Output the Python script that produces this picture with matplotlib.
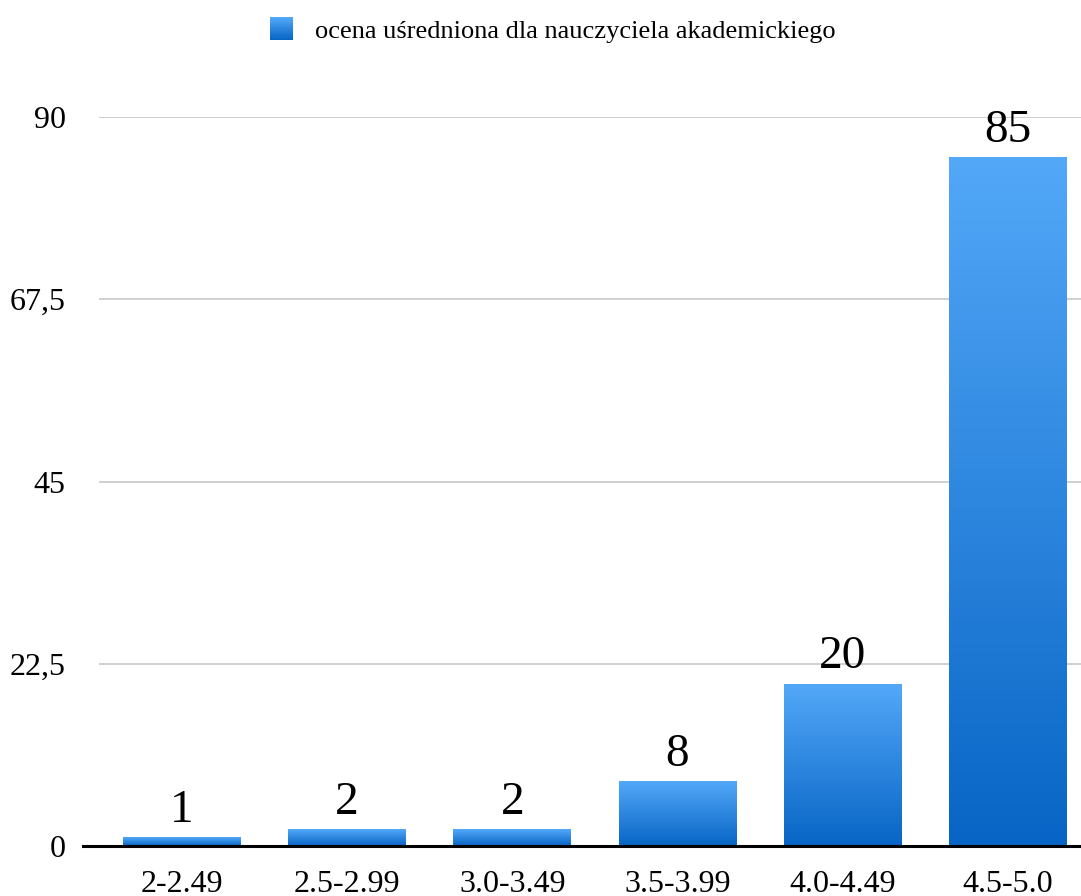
import numpy as np
import matplotlib
matplotlib.use('Agg')
import matplotlib.pyplot as plt
from matplotlib.colors import LinearSegmentedColormap
from matplotlib.patches import Rectangle
from matplotlib.legend_handler import HandlerBase

plt.rcParams['font.family'] = ['Liberation Serif', 'DejaVu Serif']

# dane
kategorie = ['2-2.49', '2.5-2.99', '3.0-3.49', '3.5-3.99', '4.0-4.49', '4.5-5.0']
wartosci = [1, 2, 2, 8, 20, 85]
yticks = [0, 22.5, 45, 67.5, 90]
ytick_labels = ['0', '22,5', '45', '67,5', '90']
legenda = 'ocena uśredniona dla nauczyciela akademickiego'

top_col = '#53a8f8'
bottom_col = '#0865c5'
cmap = LinearSegmentedColormap.from_list('blu', [bottom_col, top_col])
grad = np.linspace(0, 1, 256).reshape(-1, 1)


class GradientHandler(HandlerBase):
    # kwadracik legendy z gradientem
    def create_artists(self, legend, orig_handle, xdescent, ydescent,
                       width, height, fontsize, trans):
        n = 20
        side = height * 1.25
        x0 = -xdescent + (width - side) / 2
        y0 = -ydescent + (height - side) / 2
        arts = []
        for i in range(n):
            r = Rectangle((x0, y0 + side * i / n), side, side / n + 0.3,
                          facecolor=cmap(i / (n - 1)), edgecolor='none',
                          transform=trans)
            arts.append(r)
        return arts


fig = plt.figure(figsize=(10.81, 8.96), dpi=100)
ax = fig.add_axes([99 / 1081, 50 / 896, 982 / 1081, (846 - 117) / 896])

x = np.arange(len(kategorie))
bars = ax.bar(x, wartosci, width=0.714, color='none', edgecolor='none', zorder=3)

# gradient wewnatrz kazdego slupka
for b in bars:
    bx, by = b.get_x(), b.get_y()
    w, h = b.get_width(), b.get_height()
    ax.imshow(grad, cmap=cmap, origin='lower', aspect='auto',
              extent=[bx, bx + w, by, by + h], zorder=3, interpolation='bilinear')

ax.set_xlim(-0.502, 5.442)
ax.set_ylim(0, 90)

ax.bar_label(bars, labels=[str(v) for v in wartosci], padding=4,
             fontsize=34, zorder=4)

ax.set_yticks(yticks)
ax.set_yticklabels(ytick_labels)
ax.set_xticks(x)
ax.set_xticklabels(kategorie)
ax.tick_params(axis='y', length=0, pad=24, labelsize=23)
ax.tick_params(axis='x', length=0, pad=17, labelsize=23)

ax.grid(axis='y', color='#c8c8c8', linewidth=1.2, zorder=0)
ax.set_axisbelow(True)
for s in ax.spines.values():
    s.set_visible(False)
ax.axhline(0, xmin=-16 / 982, xmax=1, color='black', linewidth=2.2,
           clip_on=False, zorder=5)

proxy = Rectangle((0, 0), 1, 1)
fig.legend([proxy], [legenda], handler_map={Rectangle: GradientHandler()},
           loc='center', bbox_to_anchor=(552 / 1081, 1 - 31 / 896),
           frameon=False, fontsize=19, handlelength=1.0, handletextpad=0.75)

fig.savefig('out.png', dpi=100)
